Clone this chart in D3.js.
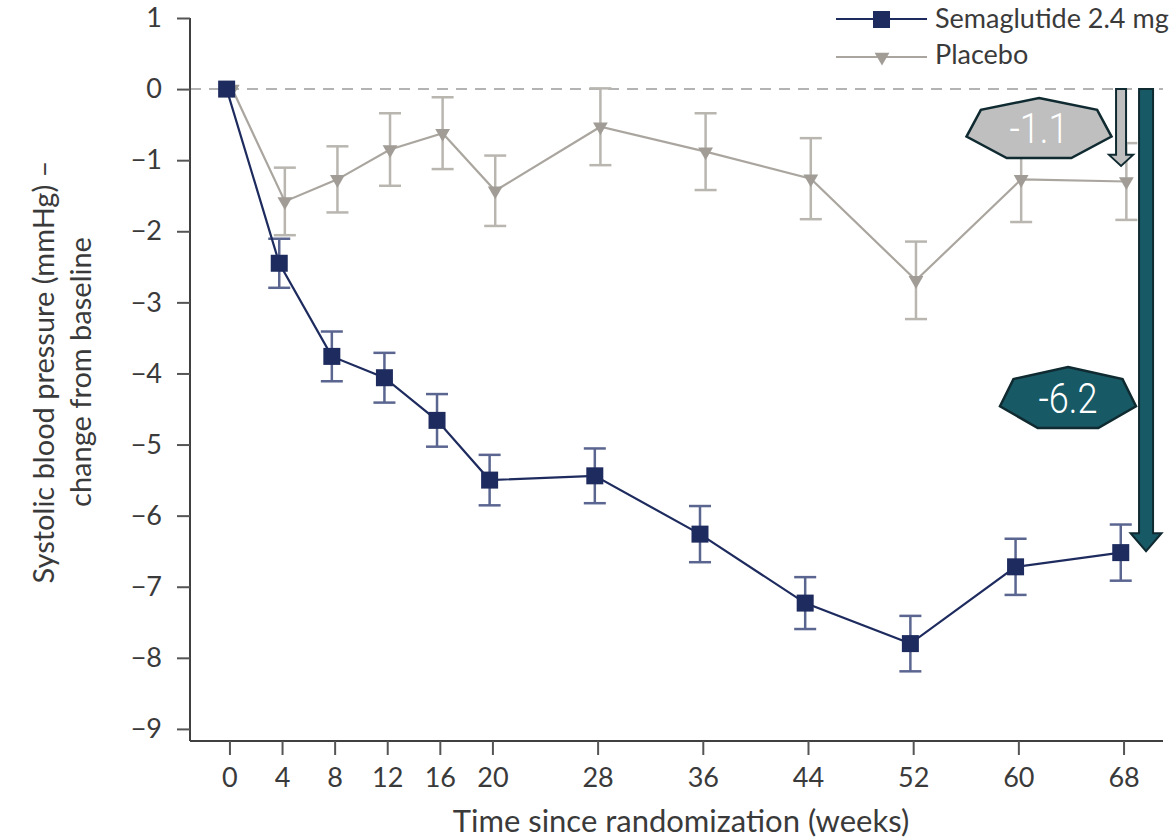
<!DOCTYPE html>
<html>
<head>
<meta charset="utf-8">
<script src="https://cdn.jsdelivr.net/npm/d3@7"></script>
<style>
  body { margin: 0; background: #fff; }
  svg text { font-family: Lato, "Open Sans", sans-serif; fill: #3a3a3a; }
</style>
</head>
<body>
<script>
// weeks on the x axis
var weeks = [0, 4, 8, 12, 16, 20, 28, 36, 44, 52, 60, 68];

// mean change from baseline (mmHg)
var semaMean = [0, -2.45, -3.76, -4.06, -4.66, -5.50, -5.44, -6.26, -7.23, -7.80, -6.72, -6.52];
var semaErr  = [0, 0.345, 0.35, 0.35, 0.37, 0.355, 0.385, 0.395, 0.365, 0.39, 0.395, 0.395];

var placeboMean = [0, -1.58, -1.27, -0.85, -0.62, -1.43, -0.53, -0.88, -1.26, -2.69, -1.27, -1.30];
var placeboErr  = [0, 0.475, 0.465, 0.51, 0.505, 0.495, 0.54, 0.54, 0.57, 0.545, 0.6, 0.54];

var yTicks = [1, 0, -1, -2, -3, -4, -5, -6, -7, -8, -9];

// difference annotations at week 68
var annoLabels = ["-1.1", "-6.2"];
var annoArrowEnd = [-1.08, -6.5];

//Width and height
var w = 1176;
var h = 840;

var svg = d3.select("body")
            .append("svg")
            .attr("width", w)
            .attr("height", h);

var x = d3.scaleLinear().domain([-3, 71]).range([190, 1163]);
var y = d3.scaleLinear().domain([-9.17, 1]).range([741, 18]);

var navy = "#1e2b5e";
var navyErr = "#5a6590";
var grey = "#aaa69f";
var greyErr = "#b9b6b0";
var teal = "#185966";
var edge = "#0f2a30";

// zero reference line
svg.append("line")
   .attr("x1", x(-3)).attr("x2", x(71))
   .attr("y1", y(0)).attr("y2", y(0))
   .style("stroke", "#b3b3b3")
   .style("stroke-width", 2)
   .style("stroke-dasharray", "11 8");

// y axis
var yAxis = d3.axisLeft(y)
              .tickValues(yTicks)
              .tickSize(13)
              .tickPadding(15)
              .tickFormat(function(d){ return d < 0 ? "\u2212" + Math.abs(d) : d; });
var gy = svg.append("g")
   .attr("transform", "translate(190,0)")
   .call(yAxis);
gy.select(".domain").attr("d", "M0," + y(1) + "V" + y(-9.17)).style("stroke", "#404040").style("stroke-width", 2);

// x axis
var xAxis = d3.axisBottom(x)
              .tickValues(weeks)
              .tickSize(14)
              .tickPadding(13);
var gx = svg.append("g")
   .attr("transform", "translate(0,741)")
   .call(xAxis);
gx.select(".domain").attr("d", "M190,0H1163").style("stroke", "#404040").style("stroke-width", 2);

svg.selectAll(".tick line").style("stroke", "#555").style("stroke-width", 2);
svg.selectAll(".tick text").style("font-size", "27px").style("fill", "#3a3a3a")
   .style("font-family", "Lato, sans-serif");

// axis titles
svg.append("text")
   .attr("x", 681)
   .attr("y", 832)
   .attr("text-anchor", "middle")
   .style("font-size", "31px")
   .text("Time since randomization (weeks)");

var yt = svg.append("text")
   .attr("transform", "translate(54,372) rotate(-90)")
   .attr("text-anchor", "middle")
   .style("font-size", "29px");
yt.append("tspan").attr("x", 0).attr("dy", 0).text("Systolic blood pressure (mmHg) \u2013");
yt.append("tspan").attr("x", 0).attr("dy", 37).text("change from baseline");

// build series
function series(mean, err, dodge){
    return weeks.map(function(wk, i){
        return {wk: wk, v: mean[i], e: err[i], dx: dodge};
    });
}
var placebo = series(placeboMean, placeboErr, 2.8);
var sema = series(semaMean, semaErr, -2.8);

var line = d3.line()
             .x(function(d){ return x(d.wk) + d.dx; })
             .y(function(d){ return y(d.v); });

function errorBars(data, color, cls){
    var g = svg.append("g").attr("class", cls);
    var bars = g.selectAll("g")
                .data(data.filter(function(d){ return d.e > 0; }))
                .enter()
                .append("g")
                .style("stroke", color)
                .style("stroke-width", 2.5);
    bars.append("line")
        .attr("x1", function(d){ return x(d.wk) + d.dx; })
        .attr("x2", function(d){ return x(d.wk) + d.dx; })
        .attr("y1", function(d){ return y(d.v + d.e); })
        .attr("y2", function(d){ return y(d.v - d.e); });
    [1, -1].forEach(function(s){
        bars.append("line")
            .attr("x1", function(d){ return x(d.wk) + d.dx - 11; })
            .attr("x2", function(d){ return x(d.wk) + d.dx + 11; })
            .attr("y1", function(d){ return y(d.v + s * d.e); })
            .attr("y2", function(d){ return y(d.v + s * d.e); });
    });
}

// placebo
errorBars(placebo, greyErr, "perr");
svg.append("path")
   .datum(placebo)
   .attr("d", line)
   .style("fill", "none")
   .style("stroke", grey)
   .style("stroke-width", 2.2);
var tri = d3.symbol().type(d3.symbolTriangle).size(95);
svg.selectAll(".ptri")
   .data(placebo)
   .enter()
   .append("path")
   .attr("class", "ptri")
   .attr("d", tri)
   .attr("transform", function(d){ return "translate(" + (x(d.wk) + d.dx) + "," + y(d.v) + ") rotate(180)"; })
   .style("fill", "#a19d96");

// semaglutide
errorBars(sema, navyErr, "serr");
svg.append("path")
   .datum(sema)
   .attr("d", line)
   .style("fill", "none")
   .style("stroke", navy)
   .style("stroke-width", 2.2);
svg.selectAll(".ssq")
   .data(sema)
   .enter()
   .append("rect")
   .attr("class", "ssq")
   .attr("x", function(d){ return x(d.wk) + d.dx - 8.5; })
   .attr("y", function(d){ return y(d.v) - 8.5; })
   .attr("width", 17)
   .attr("height", 17)
   .style("fill", navy);

// legend
var legend = svg.append("g").attr("transform", "translate(836,0)");
legend.append("line").attr("x1", 0).attr("x2", 91).attr("y1", 19).attr("y2", 19)
      .style("stroke", navy).style("stroke-width", 2);
legend.append("rect").attr("x", 37).attr("y", 11).attr("width", 17).attr("height", 17).style("fill", navy);
legend.append("text").attr("x", 99).attr("y", 28).style("font-size", "27px").text("Semaglutide 2.4 mg");
legend.append("line").attr("x1", 0).attr("x2", 91).attr("y1", 57).attr("y2", 57)
      .style("stroke", grey).style("stroke-width", 2);
legend.append("path").attr("d", tri).attr("transform", "translate(46,57) rotate(180)").style("fill", "#a19d96");
legend.append("text").attr("x", 99).attr("y", 64).style("font-size", "27px").text("Placebo");

// arrows showing the change at week 68
function arrow(cx, y0, y1, shaftW, headW, headH, fill){
    var s = shaftW / 2, hw = headW / 2;
    var pts = [[cx - s, y0], [cx + s, y0], [cx + s, y1 - headH], [cx + hw, y1 - headH],
               [cx, y1], [cx - hw, y1 - headH], [cx - s, y1 - headH]];
    svg.append("path")
       .attr("d", "M" + pts.join("L") + "Z")
       .style("fill", fill)
       .style("stroke", edge)
       .style("stroke-width", 2);
}
arrow(x(68) - 2.5, y(0), y(annoArrowEnd[0]), 10, 24, 11, "#bfbfbf");
arrow(x(68) + 22.5, y(0), y(annoArrowEnd[1]), 14, 31, 18, teal);

// heptagon labels
function heptagon(cx, top, wd, ht, fill, label, fs){
    var raw = d3.range(7).map(function(i){
        var a = -Math.PI / 2 + i * 2 * Math.PI / 7;
        return [Math.cos(a), Math.sin(a)];
    });
    var xe = d3.extent(raw, function(p){ return p[0]; });
    var ye = d3.extent(raw, function(p){ return p[1]; });
    var pts = raw.map(function(p){
        return [cx + (p[0] - (xe[0] + xe[1]) / 2) / (xe[1] - xe[0]) * wd,
                top + (p[1] - ye[0]) / (ye[1] - ye[0]) * ht];
    });
    svg.append("path")
       .attr("d", "M" + pts.join("L") + "Z")
       .style("fill", fill)
       .style("stroke", edge)
       .style("stroke-width", 2.5);
    svg.append("text")
       .attr("transform", "translate(" + cx + "," + (top + ht / 2 + fs * 0.36) + ") scale(0.86,1)")
       .attr("text-anchor", "middle")
       .style("font-family", "Roboto, sans-serif")
       .style("font-weight", 300)
       .style("font-size", fs + "px")
       .style("fill", "#ffffff")
       .text(label);
}
heptagon(1039, 98, 145, 60, "#bfbfbf", annoLabels[0], 42);
heptagon(1068, 367, 136, 61, teal, annoLabels[1], 42);
</script>
</body>
</html>
